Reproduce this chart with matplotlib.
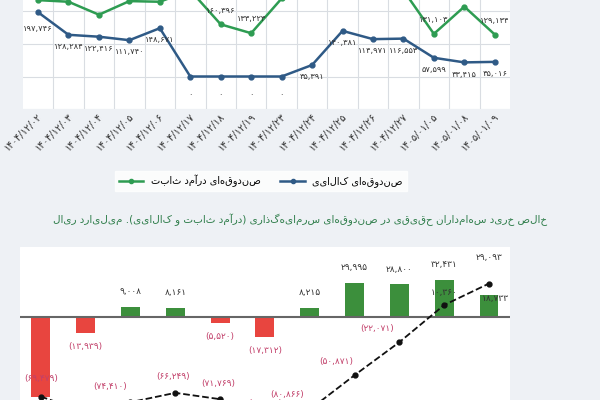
import matplotlib
matplotlib.use("Agg")
import matplotlib.pyplot as plt
from matplotlib.lines import Line2D

plt.rcParams['font.family'] = ['DejaVu Sans']

dates = ["1404/12/02","1404/12/03","1404/12/04","1404/12/05","1404/12/06","1404/12/17",
         "1404/12/18","1404/12/19","1404/12/23","1404/12/24","1404/12/25","1404/12/26",
         "1404/12/27","1405/01/05","1405/01/08","1405/01/09"]
commodity = [197746,128284,122416,111740,148671,0,0,0,0,35391,140381,114971,116553,57599,43415,45016]
fixed_income = [235000,230000,190145,232000,230000,265000,160396,133223,240000,280000,290000,290000,265000,131103,215000,129134]
fixed_labeled = {6:160396, 7:133223, 13:131103, 15:129134}

net_buy = [-69479,-13939,9008,8161,-5520,-17312,8215,29995,28800,32431,18733]
cumulative = [-69479,-83418,-74410,-66249,-71769,-89081,-80866,-50871,-22071,10360,29093]

PD = str.maketrans("0123456789", "۰۱۲۳۴۵۶۷۸۹")
def fa(n): return f"{n:,}".translate(PD)
def rtl(s): return s[::-1].translate(str.maketrans("()", ")("))

GREEN = "#2e9c52"; BLUE = "#2f5a86"; BAR_G = "#3c8f3c"; BAR_R = "#e8453f"; LBL_R = "#c2406a"

fig = plt.figure(figsize=(6, 4), dpi=100, facecolor="#eef1f5")

# top line chart
ax = fig.add_axes([0.038, 0.7275, 0.812, 0.325])
ax.set_facecolor("white")
x = list(range(len(dates)))
ax.plot(x, fixed_income, color=GREEN, lw=1.8, marker='o', ms=3.5, zorder=3)
ax.plot(x, commodity, color=BLUE, lw=1.8, marker='o', ms=3.5, zorder=3)
ax.set_xlim(-0.5, len(dates) - 0.5)
ax.set_ylim(-100000, 300000)
ax.set_yticks([-100000, 0, 100000, 200000, 300000])
ax.set_xticks([i + 0.5 for i in x[:-1]])
ax.grid(True, color="#d9dde2", lw=0.8)
ax.tick_params(length=0, labelleft=False, labelbottom=False)
for s in ax.spines.values(): s.set_visible(False)
for i, v in enumerate(commodity):
    if v == 0:
        ax.text(i, -55000, "۰", ha='center', va='center', fontsize=6, color="#333")
    elif i == 0:
        ax.text(i, v - 35000, fa(v), ha='center', va='top', fontsize=6, color="#333")
    else:
        ax.text(i, v - 22000, fa(v), ha='center', va='top', fontsize=6, color="#333")
for i, v in fixed_labeled.items():
    ax.text(i, v + 30000, fa(v), ha='center', va='bottom', fontsize=6, color="#333")
for i, d in enumerate(dates):
    ax.text(i + 0.2, -108000, d.translate(PD), rotation=45, ha='right', va='top', fontsize=7, color="#333")

leg_handles = [Line2D([], [], color=GREEN, lw=1.8, marker='o', ms=3),
               Line2D([], [], color=BLUE, lw=1.8, marker='o', ms=3)]
fig.legend(leg_handles, [rtl("صندوق‌های درآمد ثابت"), rtl("صندوق‌های کالایی")],
           loc='center', bbox_to_anchor=(0.435, 0.5475), ncol=2, fontsize=7,
           frameon=True, fancybox=False, edgecolor="white", handlelength=2.5)

fig.text(0.5, 0.45, rtl("خالص خرید سهامداران حقیقی در صندوق‌های سرمایه‌گذاری (درآمد ثابت و کالایی). میلیارد ریال"),
         ha='center', va='center', fontsize=7.5, color="#2e7d4a")

# bottom bar chart
bx = fig.add_axes([0.033, -0.1075, 0.817, 0.49])
xb = list(range(len(net_buy)))
bx.bar(xb, net_buy, width=0.42, color=[BAR_G if v > 0 else BAR_R for v in net_buy], zorder=2)
bx.axhline(0, color="#666", lw=1.5, zorder=3)
bx.plot(xb, cumulative, color="#111", ls='--', lw=1.3, marker='o', ms=3.5, zorder=4)
bx.set_xlim(-0.47, len(net_buy) - 0.53)
bx.set_ylim(-110000, 61000)
bx.axis('off')
bx.add_patch(plt.Rectangle((0, 0), 1, 1, transform=bx.transAxes, color="white", zorder=0))
for i, v in enumerate(net_buy):
    if i == len(net_buy) - 1:
        bx.text(i + 0.15, v - 3000, fa(v), ha='center', va='center', fontsize=6.5, color="#333")
    elif v > 0:
        bx.text(i, v + 9000, fa(v), ha='center', va='bottom', fontsize=6.5, color="#333")
    elif i == 0:
        pass
    else:
        bx.text(i, v - 8000, "(" + fa(-v) + ")", ha='center', va='top', fontsize=6.5, color=LBL_R)
offs = {0: 12000, 1: 2000, 2: 10000, 3: 10000, 4: 10000, 5: 10000, 6: 9000, 7: 8000, 8: 8000}
xs = {0: 0, 1: 0.55, 2: -0.45, 3: -0.05, 4: -0.05, 5: 0, 6: -0.5, 7: -0.4, 8: -0.5}
for i, v in enumerate(cumulative):
    if v < 0:
        bx.text(i + xs[i], v + offs[i], "(" + fa(-v) + ")", ha='center', va='bottom', fontsize=6.5, color=LBL_R)
    elif i == len(cumulative) - 1:
        bx.text(i, 52000, fa(v), ha='center', va='center', fontsize=6.5, color="#333")
    else:
        bx.text(i, v + 11000, fa(v), ha='center', va='center', fontsize=6.5, color="#333")

fig.savefig("out.png", dpi=100, facecolor=fig.get_facecolor())
